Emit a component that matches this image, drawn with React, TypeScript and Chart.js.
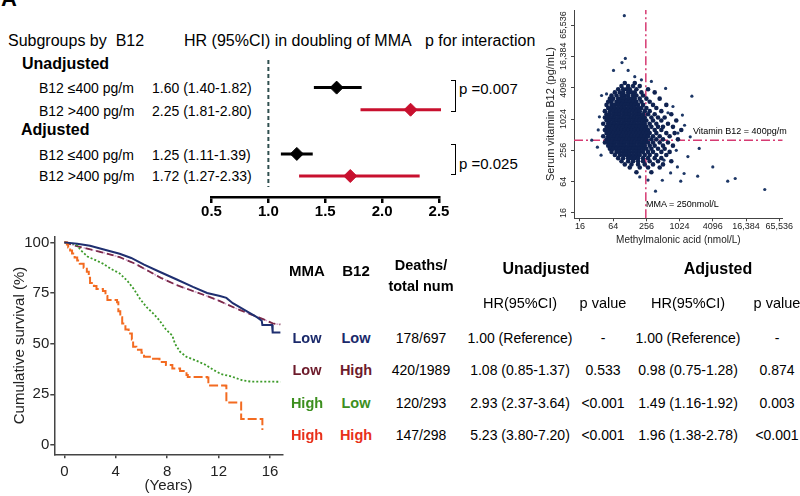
import React, { useEffect, useRef } from 'react';
import { Chart, registerables } from 'chart.js';

Chart.register(...registerables);

const FONT = "'Liberation Sans', Arial, Helvetica, sans-serif";

// ---------------- Panel A: forest plot data ----------------
const subgroupLabels = ['B12 ≤400 pg/m', 'B12 >400 pg/m', 'B12 ≤400 pg/m', 'B12 >400 pg/m'];
const hrValues = [1.6, 2.25, 1.25, 1.72];
const hrLower = [1.4, 1.81, 1.11, 1.27];
const hrUpper = [1.82, 2.8, 1.39, 2.33];
const pInteraction = ['0.007', '0.025'];
const forestTicks = [0.5, 1.0, 1.5, 2.0, 2.5];

// ---------------- Panel B: scatter data (log2 units) ----------------
const mmaTickValues = [16, 64, 256, 1024, 4096, 16384, 65536];
const b12TickValues = [16, 64, 256, 1024, 4096, 16384, 65536];
const mmaCutoff = 250; // nmol/L
const b12Cutoff = 400; // pg/mL
const b12RowsLog2 = [12.3, 12.1, 11.9, 11.7, 11.5, 11.3, 11.1, 10.9, 10.7, 10.5, 10.3, 10.1, 9.9, 9.7, 9.5, 9.3, 9.1, 8.9, 8.7, 8.5, 8.3, 8.1, 7.9, 7.7, 7.5, 7.3, 7.1, 6.9, 6.6];
const mmaByRowLog2 = [
  [6.7, 7.3],
  [6.5, 6.9, 7.2, 7.6],
  [6.3, 6.6, 6.8, 7.0, 7.4, 8.1],
  [6.1, 6.4, 6.6, 6.9, 7.1, 7.3, 7.7, 8.5],
  [5.9, 6.2, 6.5, 6.7, 6.9, 7.2, 7.4, 7.8],
  [5.8, 6.0, 6.3, 6.5, 6.7, 6.9, 7.1, 7.3, 7.6, 8.0, 8.8],
  [5.7, 5.9, 6.2, 6.4, 6.6, 6.8, 7.0, 7.2, 7.4, 7.7, 8.2],
  [5.6, 5.9, 6.1, 6.3, 6.5, 6.7, 6.9, 7.1, 7.3, 7.5, 7.8, 8.4, 9.2],
  [5.7, 5.9, 6.1, 6.3, 6.5, 6.7, 6.9, 7.1, 7.3, 7.5, 7.7, 8.0, 8.6],
  [5.5, 5.8, 6.0, 6.2, 6.4, 6.6, 6.8, 7.0, 7.2, 7.4, 7.6, 7.9, 8.2, 8.9],
  [5.6, 5.8, 6.0, 6.2, 6.4, 6.6, 6.8, 7.0, 7.2, 7.4, 7.6, 7.8, 8.1, 8.5, 9.5],
  [5.5, 5.7, 5.9, 6.1, 6.3, 6.5, 6.7, 6.9, 7.1, 7.3, 7.5, 7.7, 7.9, 8.3, 8.7, 9.1],
  [5.6, 5.8, 6.0, 6.2, 6.4, 6.6, 6.8, 7.0, 7.2, 7.4, 7.6, 7.8, 8.0, 8.4, 8.9, 9.8],
  [5.4, 5.7, 5.9, 6.1, 6.3, 6.5, 6.7, 6.9, 7.1, 7.3, 7.5, 7.7, 7.9, 8.2, 8.6, 9.3],
  [5.6, 5.8, 6.0, 6.2, 6.4, 6.6, 6.8, 7.0, 7.2, 7.4, 7.6, 7.8, 8.0, 8.3, 8.7, 9.0, 9.6],
  [5.5, 5.7, 5.9, 6.1, 6.3, 6.5, 6.7, 6.9, 7.1, 7.3, 7.5, 7.7, 7.9, 8.1, 8.5, 8.9, 10.1],
  [5.6, 5.8, 6.0, 6.2, 6.4, 6.6, 6.8, 7.0, 7.2, 7.4, 7.6, 7.8, 8.0, 8.2, 8.6, 9.2, 9.7],
  [5.4, 5.7, 5.9, 6.1, 6.3, 6.5, 6.7, 6.9, 7.1, 7.3, 7.5, 7.7, 7.9, 8.1, 8.4, 8.8, 9.4],
  [5.6, 5.8, 6.0, 6.2, 6.4, 6.6, 6.8, 7.0, 7.2, 7.4, 7.6, 7.8, 8.0, 8.3, 8.6, 9.0, 9.9],
  [5.5, 5.7, 5.9, 6.1, 6.3, 6.5, 6.7, 6.9, 7.1, 7.3, 7.5, 7.7, 7.9, 8.1, 8.4, 8.8, 9.3],
  [5.7, 5.9, 6.1, 6.3, 6.5, 6.7, 6.9, 7.1, 7.3, 7.5, 7.7, 7.9, 8.2, 8.5, 9.0, 9.6],
  [5.8, 6.0, 6.2, 6.4, 6.6, 6.8, 7.0, 7.2, 7.4, 7.6, 7.8, 8.0, 8.3, 8.7, 9.1],
  [5.9, 6.2, 6.4, 6.6, 6.8, 7.0, 7.2, 7.4, 7.6, 7.8, 8.1, 8.4, 8.9, 9.4],
  [6.1, 6.4, 6.6, 6.8, 7.0, 7.2, 7.4, 7.6, 7.9, 8.2, 8.6, 9.2],
  [6.3, 6.6, 6.9, 7.1, 7.3, 7.5, 7.8, 8.1, 8.5, 8.9],
  [6.5, 6.9, 7.2, 7.5, 7.8, 8.2, 8.7, 9.5],
  [6.7, 7.1, 7.5, 7.9, 8.4, 9.0],
  [7.0, 7.6, 8.1, 8.8],
  [7.4, 8.3],
];
const sparseMmaLog2 = [6.67, 6.73, 6.53, 6.02, 6.9, 7.7, 5.3, 5.6, 9.16, 10.74, 5.17, 4.71, 5.27, 10.17, 10.64, 11.18, 12.0, 11.09, 10.07, 8.55, 12.9, 13.35, 15.13, 9.46, 8.96, 9.87, 9.06, 10.27, 9.9, 10.3, 9.6, 9.8, 10.5, 5.1, 5.05, 7.6, 8.1, 9.3, 8.3, 7.3];
const sparseB12Log2 = [16.6, 13.87, 13.6, 13.1, 13.1, 12.5, 11.5, 11.6, 11.95, 11.46, 10.14, 8.65, 7.69, 10.25, 8.86, 8.12, 6.94, 6.35, 6.03, 5.39, 6.03, 6.2, 5.5, 6.56, 6.09, 6.94, 7.37, 6.52, 9.1, 9.6, 10.8, 8.0, 7.6, 9.3, 8.2, 6.3, 6.1, 10.4, 12.4, 12.7];

// ---------------- Panel C: survival curves ----------------
const survivalTicksX = [0, 4, 8, 12, 16];
const survivalTicksY = [0, 25, 50, 75, 100];
const lowLowTime = [0, 1, 2, 3, 4.3, 5.2, 6.2, 7.4, 8.7, 10, 11.1, 12.1, 12.6, 13.1, 14.2, 15, 15.35, 15.4, 16.15, 16.2, 16.8];
const lowLowSurv = [100, 99.3, 98.3, 96.6, 94.4, 92.3, 89, 85.5, 81.8, 78, 75, 73.5, 72.6, 70, 66, 63, 61.3, 59.2, 59.2, 55.5, 55.5];
const lowHighTime = [0, 0.8, 1.7, 3, 4.3, 5.5, 6.5, 7.5, 8.7, 10, 11.1, 12.1, 12.6, 13.5, 14.5, 15.5, 16.2, 16.8];
const lowHighSurv = [100, 98.4, 97, 95, 92.7, 89.5, 86, 82.5, 79, 76, 73.5, 71, 69.5, 67, 64.5, 62, 60, 59.5];
const highLowTime = [0, 0.6, 1, 1.3, 1.8, 2.5, 3, 3.6, 4.3, 4.9, 5.4, 5.9, 6.4, 6.9, 7.4, 7.9, 8.4, 8.6, 9, 9.5, 10.3, 11, 11.6, 12.2, 13, 13.9, 14.5, 16.8];
const highLowSurv = [100, 99.5, 98.5, 96, 93, 91, 89.5, 87, 84.7, 81, 77, 72, 68, 65, 61.5, 57, 54, 50, 46, 43.5, 41.5, 39.5, 37, 35, 33.8, 31.8, 31.3, 31.2];
const highHighTime = [0, 0.2, 0.3, 0.45, 0.6, 0.8, 1.0, 1.2, 1.5, 1.75, 1.9, 2.0, 2.3, 2.5, 3.0, 3.2, 3.35, 4.1, 4.2, 4.35, 4.5, 4.75, 5.0, 5.25, 5.35, 5.6, 6.0, 6.2, 6.9, 7.4, 7.9, 8.4, 9.0, 9.5, 9.6, 11.1, 11.2, 12.55, 12.6, 13.7, 13.75, 15.35, 15.4];
const highHighSurv = [100, 99, 97.5, 96, 94.5, 92.5, 91, 89.5, 87.5, 85.5, 82.5, 80, 78.5, 77, 76, 73.5, 71.5, 70.5, 66, 63, 60, 57, 55, 52, 48.5, 47, 45.5, 43.5, 42.5, 41, 39.5, 37.8, 36.5, 34.5, 33.5, 33.3, 29.3, 29.2, 21, 21, 12.8, 12.8, 7.4];

// ---------------- Panel C: table ----------------
const groupMma = ['Low', 'Low', 'High', 'High'];
const groupB12 = ['Low', 'High', 'Low', 'High'];
const deathsTotal = ['178/697', '420/1989', '120/293', '147/298'];
const hrUnadjusted = ['1.00 (Reference)', '1.08 (0.85-1.37)', '2.93 (2.37-3.64)', '5.23 (3.80-7.20)'];
const pUnadjusted = ['-', '0.533', '<0.001', '<0.001'];
const hrAdjusted = ['1.00 (Reference)', '0.98 (0.75-1.28)', '1.49 (1.16-1.92)', '1.96 (1.38-2.78)'];
const pAdjusted = ['-', '0.874', '0.003', '<0.001'];

const groupTextColors = ['#1b2a6b', '#6d1b2b', '#3c8f1e', '#e8301a'];

// ---------------- chart configs ----------------
function setTicks(values: number[]) {
  return (scale: any) => {
    scale.ticks = values.map((v) => ({ value: v }));
  };
}

function forestConfig(): any {
  const rowPos = [1, 2, 4, 5];
  const colors = ['#000000', '#c8102e', '#000000', '#c8102e'];
  const datasets: any[] = [
    {
      data: hrValues.map((v, i) => ({ x: v, y: rowPos[i] })),
      pointStyle: 'rectRot',
      pointRadius: 6.5,
      backgroundColor: colors,
      borderColor: colors,
      borderWidth: 1,
    },
  ];
  hrValues.forEach((_, i) => {
    datasets.push({
      data: [
        { x: hrLower[i], y: rowPos[i] },
        { x: hrUpper[i], y: rowPos[i] },
      ],
      showLine: true,
      borderColor: colors[i],
      borderWidth: 3,
      pointRadius: 0,
      clip: { left: 5, right: 2, top: 5, bottom: 5 },
    });
  });
  datasets.push({
    data: [
      { x: 1, y: -0.25 },
      { x: 1, y: 5.5 },
    ],
    showLine: true,
    borderColor: '#2f4f4f',
    borderWidth: 2,
    borderDash: [4, 3],
    pointRadius: 0,
  });
  return {
    type: 'scatter',
    data: { datasets },
    options: {
      animation: false,
      responsive: false,
      devicePixelRatio: 1,
      layout: { padding: { left: 31.5, right: 21, top: 8, bottom: 0 } },
      plugins: { legend: { display: false }, tooltip: { enabled: false } },
      scales: {
        x: {
          type: 'linear',
          min: 0.5,
          max: 2.5,
          afterBuildTicks: setTicks(forestTicks),
          afterFit: (s: any) => {
            s.height = 33;
          },
          ticks: {
            font: { family: FONT, size: 15, weight: 'bold' },
            color: '#000',
            padding: 0,
            callback: (v: any) => Number(v).toFixed(1),
          },
          grid: { drawOnChartArea: false, drawTicks: true, tickLength: 6, color: '#000', lineWidth: 2.5 },
          border: { display: true, color: '#000', width: 2.5 },
        },
        y: { type: 'linear', display: false, min: -0.34, max: 5.95, reverse: true },
      },
    },
  };
}

function formatTick(v: number) {
  return v >= 10000 ? v.toLocaleString('en-US') : String(v);
}

function scatterConfig(): any {
  const core: { x: number; y: number }[] = [];
  b12RowsLog2.forEach((y, r) => {
    mmaByRowLog2[r].forEach((x) => core.push({ x, y }));
  });
  const sparse = sparseMmaLog2.map((x, i) => ({ x, y: sparseB12Log2[i] }));
  const xMin = 3.64, xMax = 16.21, yMin = 3.66, yMax = 16.96;
  const refColor = '#d63a72';
  return {
    type: 'scatter',
    data: {
      datasets: [
        { data: core, pointRadius: 2.3, backgroundColor: '#0f2250', borderWidth: 0 },
        { data: sparse, pointRadius: 1.6, backgroundColor: '#1d3766', borderWidth: 0 },
        {
          data: [
            { x: Math.log2(mmaCutoff), y: yMin },
            { x: Math.log2(mmaCutoff), y: yMax },
          ],
          showLine: true,
          borderColor: refColor,
          borderWidth: 1.5,
          borderDash: [9, 3, 2, 3],
          pointRadius: 0,
        },
        {
          data: [
            { x: xMin, y: Math.log2(b12Cutoff) },
            { x: xMax, y: Math.log2(b12Cutoff) },
          ],
          showLine: true,
          borderColor: refColor,
          borderWidth: 1.5,
          borderDash: [9, 3, 2, 3],
          pointRadius: 0,
        },
      ],
    },
    options: {
      animation: false,
      responsive: false,
      devicePixelRatio: 1,
      layout: { padding: { left: 0, right: 17.3, top: 10, bottom: 0 } },
      plugins: { legend: { display: false }, tooltip: { enabled: false } },
      scales: {
        x: {
          type: 'linear',
          min: xMin,
          max: xMax,
          afterBuildTicks: setTicks(mmaTickValues.map((v) => Math.log2(v))),
          afterFit: (s: any) => {
            s.height = 31.7;
          },
          ticks: {
            font: { family: FONT, size: 9 },
            color: '#222',
            padding: 0,
            maxRotation: 0,
            callback: (_v: any, i: number) => formatTick(mmaTickValues[i]),
          },
          grid: { drawOnChartArea: false, drawTicks: true, tickLength: 3, color: '#444', lineWidth: 1 },
          border: { display: true, color: '#444', width: 1 },
          title: {
            display: true,
            text: 'Methylmalonic acid (nmol/L)',
            font: { family: FONT, size: 10 },
            color: '#222',
            padding: { top: 0, bottom: 3.3 },
          },
        },
        y: {
          type: 'linear',
          min: yMin,
          max: yMax,
          afterBuildTicks: setTicks(b12TickValues.map((v) => Math.log2(v))),
          afterFit: (s: any) => {
            s.width = 44;
          },
          ticks: {
            font: { family: FONT, size: 9 },
            color: '#222',
            padding: -6,
            minRotation: 90,
            maxRotation: 90,
            crossAlign: 'center',
            callback: (_v: any, i: number) => formatTick(b12TickValues[i]),
          },
          grid: { drawOnChartArea: false, drawTicks: true, tickLength: 3, color: '#444', lineWidth: 1 },
          border: { display: true, color: '#444', width: 1 },
          title: {
            display: true,
            text: 'Serum vitamin B12 (pg/mL)',
            font: { family: FONT, size: 11 },
            color: '#222',
            padding: { top: 14.4, bottom: 0 },
          },
        },
      },
    },
  };
}

function toXY(t: number[], s: number[]) {
  return t.map((x, i) => ({ x, y: s[i] }));
}

function survivalConfig(): any {
  return {
    type: 'scatter',
    data: {
      datasets: [
        { data: toXY(lowLowTime, lowLowSurv), showLine: true, borderColor: '#1f2f70', borderWidth: 2, pointRadius: 0 },
        { data: toXY(highHighTime, highHighSurv), showLine: true, stepped: 'before', borderColor: '#f36b21', borderWidth: 2, borderDash: [9, 3], pointRadius: 0 },
        { data: toXY(highLowTime, highLowSurv), showLine: true, borderColor: '#3d9b2a', borderWidth: 1.8, borderDash: [2, 2], pointRadius: 0 },
        { data: toXY(lowHighTime, lowHighSurv), showLine: true, borderColor: '#7b2a4a', borderWidth: 1.8, borderDash: [7, 4], pointRadius: 0 },
        { data: toXY(lowHighTime, lowHighSurv), showLine: true, borderColor: '#d7a6d0', borderWidth: 1.5, borderDash: [2, 2], pointRadius: 0 },
      ],
    },
    options: {
      animation: false,
      responsive: false,
      devicePixelRatio: 1,
      layout: { padding: { left: 0, right: 7.3, top: 11.7, bottom: 0 } },
      plugins: { legend: { display: false }, tooltip: { enabled: false } },
      scales: {
        x: {
          type: 'linear',
          min: -0.78,
          max: 16.98,
          afterBuildTicks: setTicks(survivalTicksX),
          afterFit: (s: any) => {
            s.height = 41.7;
          },
          ticks: { font: { family: FONT, size: 15 }, color: '#222', padding: 4.4, maxRotation: 0 },
          grid: { drawOnChartArea: false, drawTicks: true, tickLength: 4, color: '#444', lineWidth: 1.5 },
          border: { display: true, color: '#444', width: 1.5 },
          title: {
            display: true,
            text: '(Years)',
            font: { family: FONT, size: 15 },
            color: '#222',
            padding: { top: 0, bottom: 1 },
          },
        },
        y: {
          type: 'linear',
          min: -4.6,
          max: 102.8,
          afterBuildTicks: setTicks(survivalTicksY),
          afterFit: (s: any) => {
            s.width = 54.3;
          },
          ticks: { font: { family: FONT, size: 15 }, color: '#222', padding: 1 },
          grid: { drawOnChartArea: false, drawTicks: true, tickLength: 4, color: '#444', lineWidth: 1.5 },
          border: { display: true, color: '#444', width: 1.5 },
          title: {
            display: true,
            text: 'Cumulative survival (%)',
            font: { family: FONT, size: 15 },
            color: '#222',
            padding: { top: 11, bottom: 0 },
          },
        },
      },
    },
  };
}

// ---------------- components ----------------
function ChartBox(props: { left: number; top: number; width: number; height: number; make: () => any }) {
  const ref = useRef<HTMLCanvasElement>(null);
  useEffect(() => {
    const chart = new Chart(ref.current as HTMLCanvasElement, props.make());
    return () => chart.destroy();
  }, []);
  return (
    <canvas
      ref={ref}
      width={props.width}
      height={props.height}
      style={{ position: 'absolute', left: props.left, top: props.top, width: props.width, height: props.height }}
    />
  );
}

function T(props: { x: number; y: number; children: any; size?: number; bold?: boolean; color?: string; align?: 'left' | 'center' | 'right' }) {
  const { x, y, children, size = 14, bold = false, color = '#000', align = 'left' } = props;
  const tx = align === 'center' ? '-50%' : align === 'right' ? '-100%' : '0';
  return (
    <div
      style={{
        position: 'absolute',
        left: x,
        top: y,
        transform: `translate(${tx},-50%)`,
        fontFamily: FONT,
        fontSize: size,
        fontWeight: bold ? 700 : 400,
        color,
        whiteSpace: 'pre',
        lineHeight: 1,
      }}
    >
      {children}
    </div>
  );
}

function Bracket(props: { x: number; top: number; bottom: number }) {
  return (
    <div
      style={{
        position: 'absolute',
        left: props.x,
        top: props.top,
        width: 5,
        height: props.bottom - props.top,
        borderTop: '1px solid #000',
        borderRight: '1px solid #000',
        borderBottom: '1px solid #000',
        boxSizing: 'border-box',
      }}
    />
  );
}

export default function App() {
  const rowY = [88, 110.5, 154.5, 176];
  const tableRowY = [338, 370, 402.5, 435];
  const col = { mma: 307, b12: 356, deaths: 421, hrU: 520, pU: 603, hrA: 688, pA: 777 };
  return (
    <div style={{ position: 'absolute', left: 0, top: 0, width: 800, height: 496, overflow: 'hidden', background: '#fff' }}>
      <div style={{ position: 'absolute', left: 1, top: -12, fontFamily: FONT, fontWeight: 700, fontSize: 22, lineHeight: 1 }}>A</div>

      {/* Panel A */}
      <T x={8} y={41} size={16}>{'Subgroups by  B12'}</T>
      <T x={184} y={41} size={16}>HR (95%CI) in doubling of MMA</T>
      <T x={425} y={41} size={16}>p for interaction</T>
      <T x={22} y={64} size={16} bold>Unadjusted</T>
      <T x={21} y={130} size={16} bold>Adjusted</T>
      {subgroupLabels.map((lab, i) => (
        <React.Fragment key={i}>
          <T x={39} y={rowY[i]} size={14}>{lab}</T>
          <T x={152} y={rowY[i]} size={14}>{`${hrValues[i].toFixed(2)} (${hrLower[i].toFixed(2)}-${hrUpper[i].toFixed(2)})`}</T>
        </React.Fragment>
      ))}
      <Bracket x={451} top={80} bottom={112} />
      <Bracket x={451} top={144} bottom={175} />
      <T x={459} y={87.5} size={15}>{`p =${pInteraction[0]}`}</T>
      <T x={459} y={162.5} size={15}>{`p =${pInteraction[1]}`}</T>
      <ChartBox left={180} top={50} width={280} height={180} make={forestConfig} />

      {/* Panel B */}
      <ChartBox left={530} top={0} width={270} height={250} make={scatterConfig} />
      <T x={693} y={131} size={9}>{`Vitamin B12 = ${b12Cutoff}pg/m`}</T>
      <T x={646} y={204} size={9}>{`MMA = ${mmaCutoff}nmol/L`}</T>

      {/* Panel C */}
      <ChartBox left={0} top={225} width={290} height={271} make={survivalConfig} />
      <T x={col.mma} y={270} size={15} bold align="center">MMA</T>
      <T x={col.b12} y={270} size={15} bold align="center">B12</T>
      <T x={col.deaths} y={265} size={14.5} bold align="center">Deaths/</T>
      <T x={col.deaths} y={286} size={14.5} bold align="center">total num</T>
      <T x={546} y={269} size={16} bold align="center">Unadjusted</T>
      <T x={718} y={269} size={16} bold align="center">Adjusted</T>
      <T x={col.hrU} y={303} size={14.5} align="center">HR(95%CI)</T>
      <T x={col.pU} y={303} size={14.5} align="center">p value</T>
      <T x={col.hrA} y={303} size={14.5} align="center">HR(95%CI)</T>
      <T x={col.pA} y={303} size={14.5} align="center">p value</T>
      {groupMma.map((g, i) => (
        <React.Fragment key={i}>
          <T x={col.mma} y={tableRowY[i]} size={14.5} bold color={groupTextColors[i]} align="center">{g}</T>
          <T x={col.b12} y={tableRowY[i]} size={14.5} bold color={groupTextColors[i]} align="center">{groupB12[i]}</T>
          <T x={col.deaths} y={tableRowY[i]} size={14} align="center">{deathsTotal[i]}</T>
          <T x={col.hrU} y={tableRowY[i]} size={14} align="center">{hrUnadjusted[i]}</T>
          <T x={col.pU} y={tableRowY[i]} size={14} align="center">{pUnadjusted[i]}</T>
          <T x={col.hrA} y={tableRowY[i]} size={14} align="center">{hrAdjusted[i]}</T>
          <T x={col.pA} y={tableRowY[i]} size={14} align="center">{pAdjusted[i]}</T>
        </React.Fragment>
      ))}
    </div>
  );
}
